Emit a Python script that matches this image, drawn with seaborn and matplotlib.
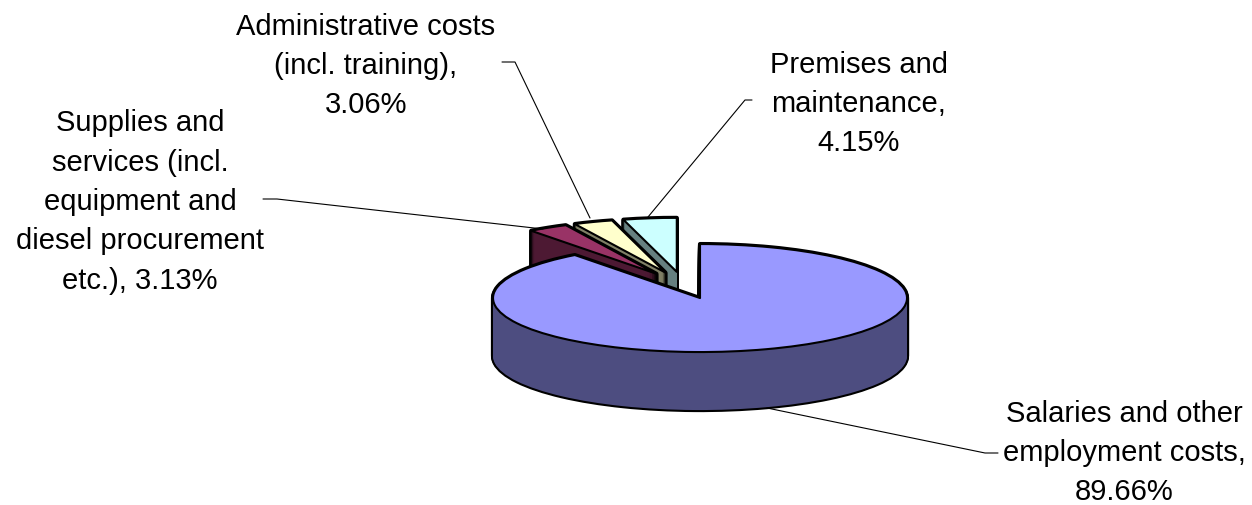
import matplotlib
matplotlib.use("Agg")
import matplotlib.pyplot as plt
from matplotlib.lines import Line2D
import seaborn as sns

categories = ["Salaries and other employment costs", "Supplies and services", "Administrative costs", "Premises and maintenance"]
values = [89.66, 3.13, 3.06, 4.15]
label_lines = [
    "Salaries and other\nemployment costs,\n{}%",
    "Supplies and\nservices (incl.\nequipment and\ndiesel procurement\netc.), {}%",
    "Administrative costs\n(incl. training),\n{}%",
    "Premises and\nmaintenance,\n{}%",
]
top_colors = ["#9999FF", "#993366", "#FFFFCC", "#CCFFFF"]
wall_colors = ["#4D4D80", "#4D1933", "#808066", "#668080"]
draw_order = [3, 2, 1, 0]  # main drawn last

sns.set_theme(style="white")
plt.rcParams["font.family"] = ["Liberation Sans", "DejaVu Sans"]

W, H = 1252, 505
RX, RY = 207.0, 54.0
CX, CY = 683.5, 285.25
DEPTH = 58
EXPLODE = 0.25

fig = plt.figure(figsize=(W / 100, H / 100), dpi=100, facecolor="white")
ax = fig.add_axes([0, 0, 1, 1])


def layer(offset):
    wedges, _ = ax.pie(values, explode=[EXPLODE] * len(values), startangle=90,
                       counterclock=False, center=(0, -offset / RY))
    return wedges


for d in range(DEPTH, -1, -1):
    for w, col, o in zip(layer(d), wall_colors, draw_order):
        w.set(facecolor="black", edgecolor="black", linewidth=3.0, zorder=10 * o + 1,
              joinstyle="round")
    for w, col, o in zip(layer(d), wall_colors, draw_order):
        w.set(facecolor=col, edgecolor="none", linewidth=0, zorder=10 * o + 2)

for w, col, o in zip(layer(0), top_colors, draw_order):
    w.set(facecolor=col, edgecolor="black", linewidth=1.5, zorder=10 * o + 3,
          joinstyle="round")

ax.set_aspect("auto")
ax.set_xlim(-CX / RX, (W - CX) / RX)
ax.set_ylim(-(H - CY) / RY, CY / RY)
ax.set_axis_off()

label_pos = [(1124, 453), (140, 202), (366, 66), (859, 104)]
for txt, v, (x, y) in zip(label_lines, values, label_pos):
    fig.text(x / W, 1 - y / H, txt.format(v), ha="center", va="center",
             fontsize=21, color="black", linespacing=1.52, zorder=100)

leaders = [
    ([767, 985, 998], [408, 453, 453]),
    ([263, 277, 543], [199, 199, 229]),
    ([502, 515, 590], [62, 62, 218]),
    ([752, 745, 648], [100, 100, 217]),
]
for xs, ys in leaders:
    fig.add_artist(Line2D([x / W for x in xs], [1 - y / H for y in ys],
                          transform=fig.transFigure, color="black", lw=0.8, zorder=100))

fig.savefig("out.png", dpi=100, facecolor="white")
